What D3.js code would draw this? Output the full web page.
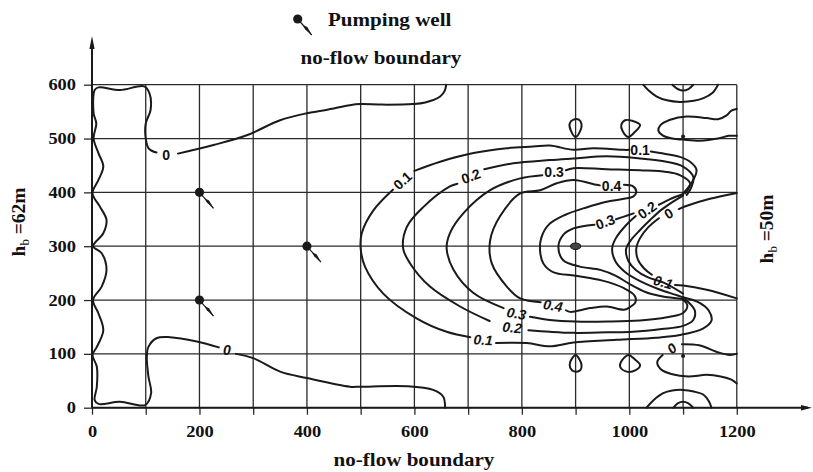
<!DOCTYPE html>
<html>
<head>
<meta charset="utf-8">
<script src="https://cdn.jsdelivr.net/npm/d3@7"></script>
<style>
  body { margin: 0; background: #fff; }
  svg { display: block; }
  .serif { font-family: "Liberation Serif", "Times New Roman", serif; font-weight: bold; fill: #111; }
  .clab { font-family: "Liberation Sans", Arial, sans-serif; font-weight: bold; font-size: 14px; fill: #111; }
</style>
</head>
<body>
<svg id="chart" width="813" height="472"></svg>
<script>
(function() {

  // ---- data ----
  var xTicks = d3.range(0, 1201, 100),
      yTicks = d3.range(0, 601, 100),
      xLabelled = [0, 200, 400, 600, 800, 1000, 1200];

  var wells = [[200, 400], [200, 200], [400, 300]];
  var centreWell = [900, 300];
  var smallDots = [[1100, 504], [1100, 96]];

  // zero contour on the left (split where its labels sit)
  var zeroLeft = [
    [[659,600],[657,590],[648,578],[620,567],[597,564],[540,563],[499,564],[480,562],[440,554],[400,547],[350,534],[288,506],[226,488],[160,472]],
    [[120,474],[106,481],[100,500],[100,528],[109,553],[107,584],[97,597],[52,590],[12,595],[5,590],[3,547],[8,528],[3,500],[12,473],[21,448],[12,423],[1,398],[15,373],[27,349],[21,324],[2,300],[18,287],[27,256],[18,225],[2,200],[12,175],[21,144],[9,113],[1,98],[9,76],[9,39],[5,14],[12,7],[52,11],[99,5],[110,27],[105,58],[102,95],[105,113],[120,129],[145,131],[195,123],[236,112]],
    [[268,100],[300,92],[350,67],[400,55],[480,39],[499,39],[586,40],[635,33],[654,20],[657,5],[657,0]]
  ];

  var c01 = [
    [[1100,398],[1107,406],[1119,423],[1125,442],[1113,457],[1094,466],[1057,473],[1040,476]],
    [[1000,479],[989,479],[933,482],[896,479],[852,487],[821,485],[772,482],[710,473],[648,457],[600,440]],
    [[560,405],[524,367],[502,324],[500,296],[508,262],[542,212],[604,166],[660,141],[704,131]],
    [[752,120],[809,120],[852,114],[896,121],[976,126],[1050,130],[1094,135],[1137,147],[1153,162],[1148,180],[1130,195],[1100,205]]
  ];

  var c02 = [
    [[1107,395],[1116,411],[1119,429],[1100,448],[1069,457],[1020,463],[958,467],[896,463],[852,460],[784,454],[730,443]],
    [[680,416],[666,411],[617,373],[586,336],[579,296],[592,268],[629,225],[685,188],[740,161]],
    [[812,144],[852,141],[896,139],[960,140],[1007,141],[1060,146],[1100,152],[1119,163],[1122,180],[1110,196],[1100,203]]
  ];

  var c03 = [
    [[1104,398],[1113,417],[1094,432],[1069,438],[1020,441],[958,443],[896,445],[882,441]],
    [[838,432],[797,426],[741,404],[691,361],[666,324],[660,296],[673,256],[710,213],[766,185]],
    [[815,169],[852,163],[900,160],[960,160],[1020,162],[1070,168],[1100,176],[1108,190],[1100,200]]
  ];

  var c04 = [
    [[990,414],[1007,411],[1013,401],[1007,392],[990,388],[960,383],[920,372],[880,358],[850,340],[836,315],[834,290],[840,268],[858,252],[900,245],[950,236],[990,222],[1010,208],[1011,195],[1000,186],[990,182],[958,188],[927,185],[890,178],[882,181]],
    [[835,196],[797,203],[772,225],[744,268],[741,311],[759,355],[797,398],[834,404],[865,417],[896,423],[939,414],[945,413]]
  ];

  var inner03 = [
    [[975,350],[990,355],[1008,361]],
    [[935,340],[896,333],[877,321],[868,299],[877,274],[908,262],[946,256],[975,245],[1000,230],[1030,215],[1060,207],[1100,202]]
  ];

  var arcA = [
    [[1100,397],[1075,387],[1055,377]],
    [[1012,356],[993,338],[975,315],[968,296],[974,272],[992,252],[1020,235],[1055,220],[1085,210],[1100,205]]
  ];

  var arcB = [
    [[1100,394],[1080,382],[1060,368],[1040,350],[1020,330],[1002,310],[994,295],[998,273],[1012,256],[1035,242],[1065,232],[1100,212]]
  ];

  var arcC = [
    [[1200,399],[1150,388],[1110,376],[1092,369]],
    [[1055,352],[1035,335],[1020,315],[1013,296],[1016,275],[1028,258],[1042,247]],
    [[1085,228],[1100,227],[1144,219],[1200,203]]
  ];

  var cornerArcs = [
    [[1026,600],[1035,590],[1051,578],[1070,571],[1094,568],[1120,570],[1138,575],[1155,585],[1165,600]],
    [[1080,600],[1090,592],[1100,589],[1110,592],[1119,600]],
    [[1032,0],[1045,14],[1063,27],[1080,32],[1100,33],[1120,30],[1138,24],[1148,12],[1153,0]],
    [[1082,0],[1090,8],[1100,11],[1110,8],[1119,0]],
    [[1200,555],[1190,552],[1181,543],[1165,536],[1144,538],[1107,541],[1076,535],[1058,525],[1054,515],[1062,506],[1080,500],[1100,498],[1132,496],[1165,500],[1185,505],[1200,505]],
    [[1200,100],[1187,98],[1162,104],[1130,116],[1098,118]],
    [[1062,98],[1052,85],[1058,72],[1080,62],[1110,58],[1144,61],[1170,58],[1190,52],[1200,45]]
  ];

  var teardrops = [
    [[900,503],[891,515],[889,528],[896,535],[906,535],[911,527],[909,515]],
    [[998,503],[987,515],[985,525],[992,534],[1005,533],[1020,525],[1010,512]],
    [[900,98],[890,85],[890,74],[899,67],[909,70],[911,80],[907,90]],
    [[998,98],[984,84],[983,76],[995,67],[1012,70],[1020,79],[1010,90]]
  ];

  var contourLabels = [
    { x: 138, y: 470, text: "0", angle: 0, italic: false },
    { x: 251, y: 108, text: "0", angle: 0, italic: true },
    { x: 578, y: 422, text: "0.1", angle: -42, italic: false },
    { x: 705, y: 430, text: "0.2", angle: -20, italic: false },
    { x: 860, y: 438, text: "0.3", angle: 0, italic: false },
    { x: 967, y: 411, text: "0.4", angle: 0, italic: false },
    { x: 1020, y: 478, text: "0.1", angle: 0, italic: false },
    { x: 955, y: 345, text: "0.3", angle: -20, italic: false },
    { x: 1033, y: 367, text: "0.2", angle: -35, italic: false },
    { x: 1073, y: 361, text: "0", angle: -30, italic: false },
    { x: 1063, y: 233, text: "0.1", angle: 15, italic: true },
    { x: 858, y: 190, text: "0.4", angle: 10, italic: true },
    { x: 790, y: 175, text: "0.3", angle: 10, italic: true },
    { x: 782, y: 149, text: "0.2", angle: 5, italic: true },
    { x: 728, y: 126, text: "0.1", angle: 3, italic: true },
    { x: 1079, y: 110, text: "0", angle: -40, italic: true }
  ];

  // ---- drawing ----
  var svg = d3.select("#chart");
  var stretch = 1.15;

  var x = d3.scaleLinear().domain([0, 1200]).range([92, 736.8]);
  var y = d3.scaleLinear().domain([0, 600]).range([407.7, 84.7]);

  var ink = "#1a1a1a";

  // grid
  var grid = svg.append("g").attr("stroke", "#2a2a2a").attr("stroke-width", 1.3);
  grid.selectAll(".gv").data(xTicks).enter().append("line")
      .attr("x1", d => x(d)).attr("x2", d => x(d))
      .attr("y1", y(0)).attr("y2", y(600));
  grid.selectAll(".gh").data(yTicks).enter().append("line")
      .attr("x1", x(0)).attr("x2", x(1200))
      .attr("y1", d => y(d)).attr("y2", d => y(d));

  // axes
  var xAxis = svg.append("g")
      .attr("transform", "translate(0," + y(0) + ")")
      .call(d3.axisBottom(x).tickValues(xTicks).tickSize(7).tickSizeOuter(0)
        .tickFormat(d => xLabelled.indexOf(d) >= 0 ? d : ""));
  var yAxis = svg.append("g")
      .attr("transform", "translate(" + x(0) + ",0)")
      .call(d3.axisLeft(y).tickValues(yTicks).tickSize(8).tickSizeOuter(0));

  [xAxis, yAxis].forEach(function(a) {
    a.select(".domain").remove();
    a.selectAll(".tick line").attr("stroke", "#2a2a2a").attr("stroke-width", 1.3);
    a.selectAll("text")
        .attr("class", "serif")
        .style("font-size", "16px")
        .attr("fill", "#111");
  });
  xAxis.selectAll("text").attr("y", 17.5).attr("transform", "scale(" + stretch + ",1)");
  yAxis.selectAll("text").attr("x", -16 / stretch).attr("transform", "scale(" + stretch + ",1)");

  // axis lines with arrows
  svg.append("line").attr("x1", x(0)).attr("x2", 808).attr("y1", y(0)).attr("y2", y(0))
      .attr("stroke", ink).attr("stroke-width", 2);
  svg.append("path").attr("d", "M812," + y(0) + "L801," + (y(0) - 2.8) + "L801," + (y(0) + 2.8) + "Z")
      .attr("fill", ink);
  svg.append("line").attr("x1", x(0)).attr("x2", x(0)).attr("y1", y(0)).attr("y2", 41)
      .attr("stroke", ink).attr("stroke-width", 2);
  svg.append("path").attr("d", "M" + x(0) + ",36L" + (x(0) - 2.6) + ",49L" + (x(0) + 2.6) + ",49Z")
      .attr("fill", ink);

  // contours
  var line = d3.line()
      .x(d => x(d[0])).y(d => y(d[1]))
      .curve(d3.curveCatmullRom.alpha(0.5));
  var closedLine = d3.line()
      .x(d => x(d[0])).y(d => y(d[1]))
      .curve(d3.curveCatmullRomClosed.alpha(0.5));

  var allSegments = [].concat(zeroLeft, c01, c02, c03, c04, inner03, arcA, arcB, arcC, cornerArcs);

  var contours = svg.append("g")
      .attr("fill", "none")
      .attr("stroke", ink)
      .attr("stroke-width", 2)
      .attr("stroke-linejoin", "round")
      .attr("stroke-linecap", "round");

  contours.selectAll(".seg").data(allSegments).enter().append("path")
      .attr("d", line);
  contours.selectAll(".drop").data(teardrops).enter().append("path")
      .attr("d", closedLine);

  svg.append("g").selectAll("text").data(contourLabels).enter().append("text")
      .attr("class", "clab")
      .attr("text-anchor", "middle")
      .attr("dominant-baseline", "central")
      .attr("font-style", d => d.italic ? "italic" : "normal")
      .attr("transform", d => "translate(" + x(d.x) + "," + y(d.y) + ") rotate(" + d.angle + ")")
      .text(d => d.text);

  // wells
  function drawWell(g, cx, cy) {
    g.append("line").attr("x1", cx).attr("y1", cy).attr("x2", cx + 14).attr("y2", cy + 16)
        .attr("stroke", ink).attr("stroke-width", 1.2);
    g.append("path")
        .attr("d", "M" + (cx + 5) + "," + (cy + 6) +
                   "L" + (cx + 7.4) + "," + (cy + 10.2) +
                   "L" + (cx + 14.5) + "," + (cy + 16.5) +
                   "L" + (cx + 9.6) + "," + (cy + 8.1) + "Z")
        .attr("fill", ink);
    g.append("circle").attr("cx", cx).attr("cy", cy).attr("r", 4.6).attr("fill", ink);
  }
  var wellLayer = svg.append("g");
  wells.forEach(function(w) { drawWell(wellLayer, x(w[0]), y(w[1])); });
  drawWell(wellLayer, 297.7, 19);

  wellLayer.append("ellipse")
      .attr("cx", x(centreWell[0])).attr("cy", y(centreWell[1]))
      .attr("rx", 5).attr("ry", 3.2)
      .attr("fill", "#444").attr("stroke", ink).attr("stroke-width", 1.2);
  wellLayer.selectAll(".sd").data(smallDots).enter().append("circle")
      .attr("cx", d => x(d[0])).attr("cy", d => y(d[1])).attr("r", 2)
      .attr("fill", ink);

  // titles
  function stext(tx, ty, size, anchor, rot, sx) {
    var g = svg.append("g")
        .attr("transform", "translate(" + tx + "," + ty + ") rotate(" + rot + ") scale(" + (sx || stretch) + ",1)");
    return g.append("text")
        .attr("class", "serif")
        .style("font-size", size + "px")
        .attr("text-anchor", anchor);
  }

  stext(328, 26, 19.5, "start", 0, 1.08).text("Pumping well");
  stext(381, 64, 19.5, "middle", 0, 1.08).text("no-flow boundary");
  stext(414, 466, 19.5, "middle", 0, 1.08).text("no-flow boundary");

  function headLabel(tx, ty, rest) {
    var t = stext(tx, ty, 18, "middle", -90, 1.08);
    t.append("tspan").text("h");
    t.append("tspan").attr("dy", 4).style("font-size", "12px").style("font-weight", "normal").text("b");
    t.append("tspan").attr("dy", -4).text(" =" + rest);
  }
  headLabel(25, 222, "62m");
  headLabel(773, 229, "50m");

})();
</script>
</body>
</html>
